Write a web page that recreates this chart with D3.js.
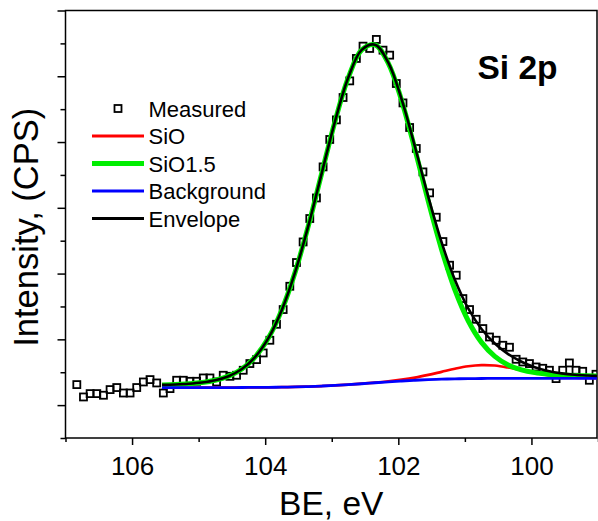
<!DOCTYPE html>
<html>
<head>
<meta charset="utf-8">
<script src="https://cdn.jsdelivr.net/npm/d3@7"></script>
<style>
  html, body { margin: 0; padding: 0; background: #fff; }
  svg { display: block; }
  text { font-family: Arial, "Liberation Sans", sans-serif; fill: #000; }
</style>
</head>
<body>
<script>
// Si 2p XPS spectrum: measured points, fitted components, Shirley background and envelope.

// Measured spectrum (binding energy, eV / intensity, CPS)
const beMeasured = [
  106.83, 106.73, 106.63, 106.53, 106.43, 106.33, 106.23, 106.13, 106.03, 105.93,
  105.83, 105.73, 105.63, 105.53, 105.43, 105.33, 105.23, 105.13, 105.03, 104.93,
  104.83, 104.73, 104.63, 104.53, 104.43, 104.33, 104.23, 104.13, 104.03, 103.93,
  103.83, 103.73, 103.63, 103.53, 103.43, 103.33, 103.23, 103.13, 103.03, 102.93,
  102.83, 102.73, 102.63, 102.53, 102.43, 102.33, 102.23, 102.13, 102.03, 101.93,
  101.83, 101.73, 101.63, 101.53, 101.43, 101.33, 101.23, 101.13, 101.03, 100.93,
  100.83, 100.73, 100.63, 100.53, 100.43, 100.33, 100.23, 100.13, 100.03, 99.93,
  99.83, 99.73, 99.63, 99.53, 99.43, 99.33, 99.23, 99.13, 99.03
];
const cpsMeasured = [
  812, 624, 675, 675, 650, 736, 767, 684, 684, 767,
  852, 888, 837, 684, 751, 878, 878, 862, 862, 913,
  913, 852, 954, 938, 954, 1030, 1132, 1192, 1293, 1486,
  1729, 1953, 2307, 2668, 2981, 3337, 3650, 4122, 4539, 4837,
  5177, 5430, 5771, 5958, 5923, 6060, 5897, 5821, 5390, 5095,
  4721, 4402, 4046, 3727, 3357, 2987, 2627, 2475, 2120, 1953,
  1805, 1664, 1536, 1486, 1410, 1380, 1197, 1156, 1132, 1080,
  1060, 1030, 903, 1030, 1141, 1030, 1014, 878, 969
];

// Fit curves sampled on the fit energy grid
const beFit = [
  105.55, 105.35, 105.15, 104.95, 104.75, 104.55, 104.35, 104.15, 103.95, 103.75,
  103.55, 103.35, 103.15, 102.95, 102.75, 102.55, 102.35, 102.15, 101.95, 101.75,
  101.55, 101.35, 101.15, 100.95, 100.75, 100.55, 100.35, 100.15, 99.95, 99.75,
  99.55, 99.35, 99.15, 98.95
];
const fitSiO = [
  767, 767, 767, 767, 767, 767, 768, 769, 770, 773,
  776, 782, 790, 800, 812, 826, 843, 863, 887, 918,
  959, 1006, 1053, 1091, 1109, 1102, 1072, 1032, 990, 956,
  933, 919, 913, 910
];
const fitSiO15 = [
  807, 814, 825, 844, 878, 940, 1049, 1234, 1523, 1948,
  2522, 3232, 4028, 4819, 5484, 5900, 5977, 5697, 5129, 4388,
  3600, 2867, 2253, 1783, 1454, 1241, 1110, 1036, 994, 971,
  958, 950, 945, 941
];
const fitBackground = [
  767, 767, 767, 767, 767, 767, 768, 769, 770, 773,
  776, 782, 790, 800, 812, 825, 840, 854, 867, 878,
  888, 895, 900, 903, 905, 907, 907, 908, 908, 908,
  908, 908, 908, 908
];
const fitEnvelope = [
  807, 814, 825, 844, 878, 940, 1049, 1234, 1523, 1948,
  2522, 3232, 4028, 4819, 5484, 5901, 5980, 5706, 5149, 4428,
  3671, 2978, 2406, 1971, 1658, 1436, 1275, 1160, 1076, 1019,
  983, 961, 950, 943
];

// Axis ticks
const xMajorTicks = [106, 104, 102, 100];
const xMinorTicks = [107, 105, 103, 101, 99];
const yMajorTicks = [500, 1500, 2500, 3500, 4500, 5500, 6500];
const yMinorTicks = [0, 1000, 2000, 3000, 4000, 5000, 6000];

// Legend entries and title
const legendNames = ["Measured", "SiO", "SiO1.5", "Background", "Envelope"];
const panelTitle = "Si 2p";
const xTitle = "BE, eV";
const yTitle = "Intensity, (CPS)";

const W = 598, H = 521;
const svg = d3.select("body").append("svg").attr("width", W).attr("height", H);
svg.append("rect").attr("width", W).attr("height", H).attr("fill", "#fff");

const x = d3.scaleLinear().domain([107, 99]).range([65.5, 598]);
const y = d3.scaleLinear().domain([0, 6500]).range([438, 10.5]);

const plotLeft = x.range()[0], plotRight = x.range()[1] - 1;
const plotTop = y.range()[1], plotBottom = y.range()[0];

svg.append("clipPath").attr("id", "plot-clip")
  .append("rect").attr("x", plotLeft).attr("y", plotTop)
  .attr("width", plotRight - plotLeft).attr("height", plotBottom - plotTop);

// Axes with outward major/minor ticks
function styleAxis(g) {
  g.select(".domain").remove();
  g.selectAll(".tick line").attr("stroke", "#000").attr("stroke-width", 1.5);
}
svg.append("g").attr("transform", `translate(0,${plotBottom})`)
  .call(d3.axisBottom(x).tickValues(xMinorTicks).tickSize(4).tickFormat(""))
  .call(styleAxis);
svg.append("g").attr("transform", `translate(0,${plotBottom})`)
  .call(d3.axisBottom(x).tickValues(xMajorTicks).tickSize(7).tickPadding(12).tickFormat(d3.format("d")))
  .call(styleAxis)
  .call(g => g.selectAll(".tick text").attr("font-size", 26).attr("fill", "#000")
    .attr("font-family", 'Arial, "Liberation Sans", sans-serif'));
svg.append("g").attr("transform", `translate(${plotLeft},0)`)
  .call(d3.axisLeft(y).tickValues(yMinorTicks).tickSize(5).tickFormat(""))
  .call(styleAxis);
svg.append("g").attr("transform", `translate(${plotLeft},0)`)
  .call(d3.axisLeft(y).tickValues(yMajorTicks).tickSize(8).tickFormat(""))
  .call(styleAxis);

// Frame
svg.append("rect").attr("x", plotLeft).attr("y", plotTop)
  .attr("width", plotRight - plotLeft).attr("height", plotBottom - plotTop)
  .attr("fill", "none").attr("stroke", "#000").attr("stroke-width", 1.5);

const plot = svg.append("g").attr("clip-path", "url(#plot-clip)");

// Measured points (open squares)
const sq = 7;
const sqStroke = 1.8;
plot.append("g").selectAll("rect")
  .data(beMeasured.map((be, i) => [be, cpsMeasured[i]]))
  .join("rect")
  .attr("x", d => x(d[0]) - sq / 2)
  .attr("y", d => y(d[1]) - sq / 2)
  .attr("width", sq).attr("height", sq)
  .attr("fill", "none").attr("stroke", "#000").attr("stroke-width", sqStroke);

// Fit curves
const line = d3.line().x(d => x(d[0])).y(d => y(d[1])).curve(d3.curveCatmullRom.alpha(0.5));
const series = [
  { values: fitSiO, color: "#ff0000", width: 2.7 },
  { values: fitSiO15, color: "#00ee00", width: 5 },
  { values: fitBackground, color: "#0000ff", width: 2.8 },
  { values: fitEnvelope, color: "#000000", width: 2.6 }
];
series.forEach(s => {
  plot.append("path")
    .datum(beFit.map((be, i) => [be, s.values[i]]))
    .attr("d", line)
    .attr("fill", "none")
    .attr("stroke", s.color)
    .attr("stroke-width", s.width)
    .attr("stroke-linejoin", "round");
});

// Legend
const legendStyles = [
  { type: "square" },
  { type: "line", color: "#ff0000", width: 2.8 },
  { type: "line", color: "#00ee00", width: 5 },
  { type: "line", color: "#0000ff", width: 2.8 },
  { type: "line", color: "#000000", width: 3 }
];
const legend = svg.append("g").attr("transform", "translate(92,108.5)");
legendNames.forEach((name, i) => {
  const g = legend.append("g").attr("transform", `translate(0,${i * 27.5})`);
  const st = legendStyles[i];
  if (st.type === "square") {
    g.append("rect").attr("x", 26 - sq / 2).attr("y", -sq / 2)
      .attr("width", sq).attr("height", sq)
      .attr("fill", "none").attr("stroke", "#000").attr("stroke-width", sqStroke);
  } else {
    g.append("line").attr("x1", 0).attr("x2", 52).attr("y1", 0).attr("y2", 0)
      .attr("stroke", st.color).attr("stroke-width", st.width);
  }
  g.append("text").attr("x", 56.5).attr("y", 8).attr("font-size", 22).text(name);
});

// Panel title
svg.append("text").attr("x", 477.5).attr("y", 79)
  .attr("font-size", 33.5).attr("font-weight", "bold").text(panelTitle);

// Axis titles
svg.append("text").attr("x", (plotLeft + plotRight) / 2).attr("y", 515)
  .attr("text-anchor", "middle").attr("font-size", 33.5).text(xTitle);
svg.append("text")
  .attr("transform", `translate(37.5,${(plotTop + plotBottom) / 2 + 3}) rotate(-90)`)
  .attr("text-anchor", "middle").attr("font-size", 34.5).text(yTitle);
</script>
</body>
</html>
